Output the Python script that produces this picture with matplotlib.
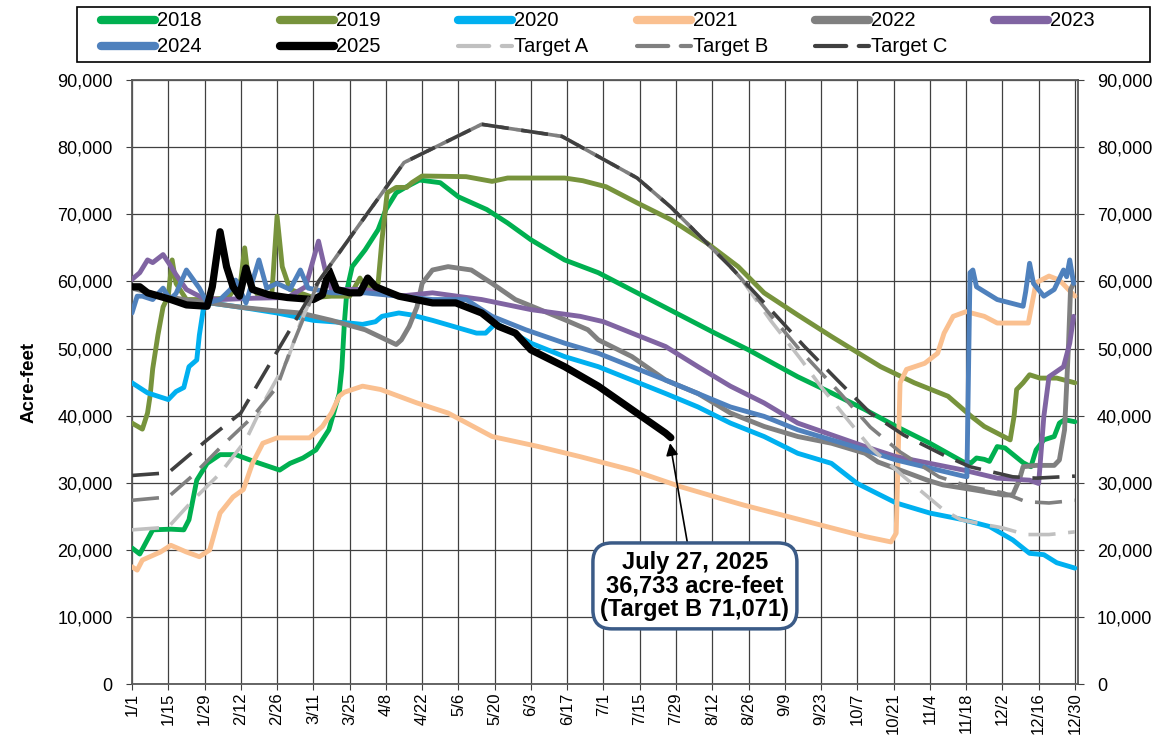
import matplotlib
matplotlib.use("Agg")
import matplotlib.pyplot as plt
import matplotlib.ticker as ticker
from matplotlib.lines import Line2D
from matplotlib.patches import Rectangle

plt.rcParams["font.family"] = ["Liberation Sans", "DejaVu Sans"]

# x positions are day of year (leap-year calendar, 1/1 = day 0)
tick_labels = ["1/1", "1/15", "1/29", "2/12", "2/26", "3/11", "3/25", "4/8", "4/22",
               "5/6", "5/20", "6/3", "6/17", "7/1", "7/15", "7/29", "8/12", "8/26",
               "9/9", "9/23", "10/7", "10/21", "11/4", "11/18", "12/2", "12/16", "12/30"]

d_2018 = [0, 3, 8, 15, 20, 22, 25, 29, 34, 40, 47, 57, 61, 66, 71, 76, 80, 81, 82, 83,
          85, 90, 95, 98, 102, 106, 111, 119, 126, 137, 145, 154, 167, 180, 195, 210, 225, 238, 257, 270,
          283, 295, 308, 321, 324, 326, 329, 331, 334, 337, 344, 347, 349, 352, 356, 358, 360, 364]
v_2018 = [20300, 19400, 23000, 23100, 23000, 24500, 30400, 32900, 34200, 34200, 33200, 31900, 32900, 33700,
          34900, 37900, 43300, 47000, 53900, 58800, 62200, 64700, 67700, 70700, 73200, 74100, 75100, 74700,
          72600, 70700, 68700, 66200, 63200, 61300, 58300, 55300, 52300, 49800, 45800, 43400, 40900, 38400,
          35900, 33100, 33000, 33700, 33500, 33200, 35400, 35200, 33000, 32400, 34900, 36400, 36900, 38900,
          39400, 39100]

d_2019 = [0, 4, 6, 7, 8, 10, 12, 14, 15.5, 17, 21, 26, 37, 42, 43.5, 45, 49, 54, 56, 58,
          61, 70, 77, 84, 88, 90, 95, 96.5, 98.5, 102, 106, 108, 112, 129, 139, 145, 167, 174, 183, 195,
          208, 222, 234, 244, 257, 270, 289, 302, 315, 324, 329, 334, 339, 340.5, 341.5, 344, 346.5, 350.5,
          357, 364]
v_2019 = [38900, 38000, 40400, 43000, 47000, 52000, 56200, 57800, 63200, 59700, 57300, 57300, 57500, 60200,
          65000, 60200, 57700, 58200, 69700, 62200, 58800, 57600, 57800, 57800, 60500, 59000, 59700, 66200,
          73200, 74000, 74000, 74700, 75700, 75600, 74900, 75400, 75400, 75000, 74100, 71700, 69200, 65700,
          62200, 58300, 55000, 51800, 47300, 44900, 42900, 39900, 38400, 37400, 36400, 39900, 43900, 44900,
          46100, 45600, 45600, 44900]

d_2020 = [0, 6, 14, 17, 20, 22, 25, 26, 27.5, 30, 43, 56, 70, 84, 89, 94, 96.5, 103, 108, 116,
          133, 136.5, 140.5, 154, 167, 180, 193, 206, 218.5, 231, 244, 257, 270, 280, 295, 308, 321, 331,
          340, 346.5, 352, 357, 364]
v_2020 = [44900, 43400, 42400, 43600, 44200, 47300, 48300, 52000, 55800, 56800, 56100, 55300, 54200, 53800,
          53600, 54000, 54800, 55300, 55000, 54200, 52300, 52300, 53800, 50800, 48800, 47300, 45300, 43300,
          41300, 38900, 36900, 34400, 32900, 29900, 27000, 25500, 24500, 23500, 21500, 19500, 19300, 18100,
          17300]

d_2021 = [0, 2, 4, 11, 15, 21, 26, 30, 34, 39, 43, 46.5, 50.5, 56, 68.5, 73.5, 77, 80, 82, 89,
          96, 110, 122, 139, 157, 173, 193, 212, 227, 236, 268, 283, 293, 295, 296.5, 299, 306, 311, 313.5,
          317, 322, 329, 334, 346, 349, 354, 358, 364]
v_2021 = [17500, 17000, 18500, 19700, 20700, 19700, 19000, 20000, 25500, 27900, 29000, 32900, 35900, 36700,
          36700, 38400, 40400, 42900, 43500, 44400, 43900, 41900, 40400, 36900, 35400, 33900, 31900, 29400,
          27700, 26700, 23500, 22000, 21200, 22500, 44900, 46900, 47800, 49300, 52300, 54800, 55500, 54800,
          53800, 53800, 59800, 60800, 60200, 57800]

d_2022 = [0, 10, 20, 30, 43, 56, 65, 77, 90, 102, 104, 107, 110, 112, 116, 122, 131, 139, 148, 167,
          176, 180, 193, 206, 218.5, 231, 244, 257, 270, 283, 288, 300, 307, 313, 326, 336.5, 340, 342.5,
          344, 349, 356, 358, 360, 361.5, 362.3, 363.5]
v_2022 = [59000, 58000, 57300, 56800, 56100, 55600, 55300, 54200, 52800, 50600, 51300, 53300, 56200, 59700,
          61700, 62200, 61700, 59700, 57300, 54300, 52800, 51300, 48800, 45300, 43300, 40400, 38400, 36900,
          35900, 34400, 33100, 31400, 30400, 29700, 28900, 28200, 28200, 30400, 32400, 32600, 32600, 33400,
          37900, 50300, 58800, 59700]

d_2023 = [0, 3, 6, 8, 12, 14.6, 17, 21, 27, 34, 47, 60, 67, 72, 75, 77, 90, 103, 116, 135,
          154, 173, 182, 193, 206, 218.5, 231, 244, 257, 283, 295, 308, 321, 334, 346.5, 350, 352, 354,
          359.6, 362, 363.5]
v_2023 = [60300, 61300, 63200, 62800, 64000, 62500, 61000, 58800, 57600, 57300, 57500, 57600, 59200, 66000,
          61000, 58800, 58800, 57800, 58300, 57300, 55800, 54800, 54000, 52300, 50300, 47300, 44400, 41900,
          38900, 35400, 33900, 32900, 31900, 30700, 30400, 29900, 39900, 45800, 47300, 50800, 54800]

d_2024 = [0, 2, 4, 8, 12, 14.6, 17, 21, 26, 29, 34, 38, 40, 44, 49, 52, 56, 61, 65, 68,
          77, 90, 103, 116, 129, 139, 152, 167, 180, 193, 206, 218.5, 231, 244, 257, 270, 283, 295, 308,
          321, 322.3, 323.5, 324.6, 326, 334, 344, 345, 346.5, 348, 352, 356, 359.6, 360.8, 362, 363.5]
v_2024 = [55300, 57800, 57800, 57300, 59000, 57300, 58200, 61700, 59000, 56800, 57300, 58800, 60200, 56800,
          63200, 59000, 59700, 58800, 61700, 59000, 58300, 58300, 57800, 57300, 57300, 54800, 52800, 50800,
          49300, 47300, 45300, 43300, 41300, 39900, 37900, 36400, 34900, 33400, 32200, 31000, 30900, 61300,
          61700, 59200, 57300, 56300, 58500, 62700, 59700, 57800, 58800, 61700, 60700, 63200, 59700]

d_2025 = [0, 3, 6, 15, 21, 29, 31, 34, 36.5, 39, 41.5, 44, 46.5, 53, 60, 70, 73.5, 76, 79, 84,
          88, 91, 94, 103, 116, 125, 135, 141.5, 148, 154, 167, 180, 193, 206, 208]
v_2025 = [59200, 59200, 58300, 57300, 56500, 56300, 59200, 67400, 62200, 59200, 57800, 62000, 58800, 58000,
          57600, 57300, 58000, 61700, 58800, 58300, 58300, 60500, 59200, 57800, 56800, 56800, 55300, 53300,
          52300, 49800, 47300, 44400, 40900, 37400, 36733]

d_target_a = [0, 14, 23.5, 34, 44, 52, 60, 65, 72, 105, 135, 166, 195, 208, 231, 235, 246.5, 258, 266,
              276.5, 285, 298, 313.5, 320, 329, 336, 345, 354, 364]
v_target_a = [23000, 23400, 27400, 31400, 36400, 42800, 48300, 53800, 60000, 77700, 83400, 81600, 75400,
              71071, 62200, 60500, 54200, 48500, 44300, 39300, 35300, 30900, 25900, 24500, 23800, 23300,
              22300, 22300, 22700]

d_target_b = [0, 14, 23.5, 35, 46.5, 56, 61, 72, 105, 135, 166, 195, 208, 231, 235, 246.5, 258, 273.5,
              285, 296.5, 311.5, 323.5, 336.5, 345, 354, 364]
v_target_b = [27400, 27900, 31100, 35600, 39800, 44300, 49600, 60000, 77700, 83400, 81600, 75400, 71071,
              62200, 60500, 55000, 49700, 43300, 38300, 34600, 30900, 29400, 28500, 27200, 27000, 27400]

d_target_c = [0, 14, 29, 42, 72, 105, 135, 166, 195, 208, 231, 246.5, 259.6, 272.3, 285, 298, 313.5,
              323.5, 340, 349, 364]
v_target_c = [31100, 31500, 36400, 40400, 60000, 77700, 83400, 81600, 75400, 71071, 62200, 55800, 50300,
              45300, 40400, 37100, 34100, 32400, 30900, 30700, 31000]

years = [
    ("2018", d_2018, v_2018, "#00b050", 3.5),
    ("2019", d_2019, v_2019, "#77933c", 3.5),
    ("2020", d_2020, v_2020, "#00b0f0", 3.5),
    ("2021", d_2021, v_2021, "#fac090", 3.5),
    ("2022", d_2022, v_2022, "#808080", 3.5),
    ("2023", d_2023, v_2023, "#8064a2", 3.5),
    ("2024", d_2024, v_2024, "#4f81bd", 3.5),
    ("2025", d_2025, v_2025, "#000000", 5.2),
]
targets = [
    ("Target A", d_target_a, v_target_a, "#c0c0c0"),
    ("Target B", d_target_b, v_target_b, "#808080"),
    ("Target C", d_target_c, v_target_c, "#404040"),
]

W, H = 1164, 742
fig = plt.figure(figsize=(W / 100, H / 100), dpi=100)
ax = fig.add_axes([0.1134, 0.0778, 0.8123, 0.8144])

for name, d, v, color, lw in years:
    ax.plot(d, v, color=color, lw=lw, solid_joinstyle="round",
            solid_capstyle="round", label=name, zorder=3)
for name, d, v, color in targets:
    ax.plot(d, v, color=color, lw=2.6, dashes=(7.5, 3.5), label=name, zorder=4)

ax.set_xlim(0, 365)
ax.set_ylim(0, 90000)
ax.set_xticks([14 * i for i in range(len(tick_labels))])
ax.set_xticklabels(tick_labels, rotation=90, fontsize=12)
ax.set_yticks(range(0, 90001, 10000))
ax.yaxis.set_major_formatter(ticker.StrMethodFormatter("{x:,.0f}"))
ax.tick_params(axis="y", labelsize=13, length=4, pad=10, color="#404040")
ax.tick_params(axis="x", length=4, pad=2, color="#404040")
ax.grid(True, color="#404040", lw=0.9)
ax.set_axisbelow(True)
for spine in ax.spines.values():
    spine.set_color("#595959")
    spine.set_linewidth(1.3)
ax.set_ylabel("Acre-feet", fontsize=13.5, fontweight="bold", labelpad=14)

ax2 = ax.twinx()
ax2.set_ylim(0, 90000)
ax2.set_yticks(range(0, 90001, 10000))
ax2.yaxis.set_major_formatter(ticker.StrMethodFormatter("{x:,.0f}"))
ax2.tick_params(axis="y", labelsize=13, length=4, pad=10, color="#404040")
for spine in ax2.spines.values():
    spine.set_visible(False)

ax.annotate("July 27, 2025\n36,733 acre-feet\n(Target B 71,071)",
            xy=(207.7, 35900), xytext=(217.3, 14650),
            ha="center", va="center", fontsize=17, fontweight="bold", linespacing=1.05,
            bbox=dict(boxstyle="round,pad=0.32,rounding_size=0.8", fc="white",
                      ec="#3b5b87", lw=2.5),
            arrowprops=dict(arrowstyle="-|>", color="black", lw=1.2, mutation_scale=18,
                            shrinkA=0, shrinkB=0),
            zorder=6)

# legend as an even grid (6 columns x 2 rows), like the spreadsheet legend
fig.patches.append(Rectangle((77 / W, 1 - 62 / H), 1073 / W, 55 / H,
                             transform=fig.transFigure, fill=False, ec="black", lw=1.2))
entries = [(n, c, True) for n, _, _, c, _ in years] + [(n, c, False) for n, _, _, c in targets]
for i, (name, color, solid) in enumerate(entries):
    col, row = i % 6, i // 6
    x0 = 101 + 178.6 * col
    y0 = 20 + 26 * row
    kw = dict(lw=6.0, solid_capstyle="round") if solid else dict(lw=3.0, dashes=(7.5, 3.0),
                                                                  dash_capstyle="round")
    fig.add_artist(Line2D([x0 / W, (x0 + 54) / W], [1 - y0 / H, 1 - y0 / H],
                          transform=fig.transFigure, color=color, **kw))
    fig.text((x0 + 56) / W, 1 - y0 / H, name, fontsize=14.5, va="center", ha="left")

fig.savefig("out.png", dpi=100)
plt.close(fig)
